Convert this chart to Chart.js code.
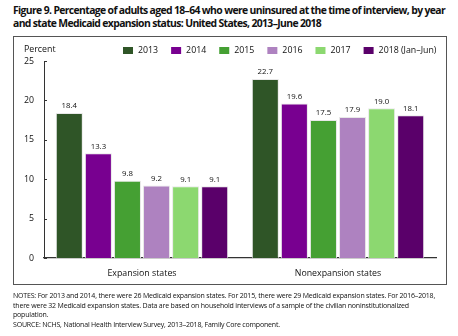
<!DOCTYPE html>
<html>
<head>
<meta charset="utf-8">
<script src="https://cdn.jsdelivr.net/npm/chart.js@4.4.0/dist/chart.umd.min.js"></script>
<style>
  html, body { margin: 0; padding: 0; background: #fff; }
  body { width: 458px; height: 336px; position: relative; overflow: hidden; font-family: "Open Sans", sans-serif; color: #111; }
  #title { position: absolute; left: 13px; top: 4px; font-weight: bold; font-size: 10.4px; line-height: 12.5px; white-space: nowrap; }
  #frame { position: absolute; left: 13px; top: 36px; width: 432px; height: 247px; border: 1.5px solid #555; }
  #wrap { position: absolute; left: 0; top: 0; width: 458px; height: 336px; }
  #notes { position: absolute; left: 13px; top: 291px; font-size: 7px; line-height: 9.6px; white-space: nowrap; }
  .ln { display: block; }
</style>
</head>
<body>
<div id="title"><span class="ln" id="t1">Figure 9. Percentage of adults aged 18–64 who were uninsured at the time of interview, by year</span><span class="ln">and state Medicaid expansion status: United States, 2013–June 2018</span></div>
<div id="frame"></div>
<div id="wrap"><canvas id="chart" width="458" height="336"></canvas></div>
<div id="notes"><span class="ln" id="n1">NOTES: For 2013 and 2014, there were 26 Medicaid expansion states. For 2015, there were 29 Medicaid expansion states. For 2016–2018,</span><span class="ln">there were 32 Medicaid expansion states. Data are based on household interviews of a sample of the civilian noninstitutionalized</span><span class="ln">population.</span><span class="ln">SOURCE: NCHS, National Health Interview Survey, 2013–2018, Family Core component.</span></div>

<script>
const categories = ['Expansion states', 'Nonexpansion states'];
const years = ['2013', '2014', '2015', '2016', '2017', '2018 (Jan–Jun)'];
const colors = ['#2f5527', '#780090', '#45a033', '#ae82c0', '#8cd870', '#5a006a'];

const v2013 = [18.4, 22.7];
const v2014 = [13.3, 19.6];
const v2015 = [9.8, 17.5];
const v2016 = [9.2, 17.9];
const v2017 = [9.1, 19.0];
const v2018 = [9.1, 18.1];
const seriesValues = [v2013, v2014, v2015, v2016, v2017, v2018];

const yTicks = [0, 5, 10, 15, 20, 25];
const FONT = '"Open Sans", sans-serif';

// squeeze a text block so its first line spans the given width
function fitLine(blockId, lineId, target) {
  const block = document.getElementById(blockId);
  const line = document.getElementById(lineId);
  line.style.display = 'inline-block';
  const w = line.getBoundingClientRect().width;
  line.style.display = '';
  const n = line.textContent.length;
  block.style.letterSpacing = ((target - w) / n).toFixed(3) + 'px';
}
fitLine('title', 't1', 432);
fitLine('notes', 'n1', 422);

// legend row drawn by hand so it can sit right of the "Percent" label
const legendRow = {
  id: 'legendRow',
  afterDraw(chart) {
    const ctx = chart.ctx;
    ctx.save();
    ctx.font = '8.8px ' + FONT;
    ctx.textBaseline = 'middle';
    ctx.fillStyle = '#111';
    ctx.textAlign = 'left';
    ctx.fillText('Percent', 24, 49);
    let x = 123;
    chart.data.datasets.forEach(ds => {
      ctx.fillStyle = ds.backgroundColor;
      ctx.fillRect(x, 47, 10, 7);
      ctx.fillStyle = '#111';
      ctx.fillText(ds.label, x + 15, 50.5);
      x += 15 + ctx.measureText(ds.label).width + 13;
    });
    ctx.restore();
  }
};

// value labels over bars, short inward ticks on the y axis
const extras = {
  id: 'extras',
  afterDatasetsDraw(chart) {
    const ctx = chart.ctx;
    ctx.save();
    ctx.font = '7.8px ' + FONT;
    ctx.textAlign = 'center';
    ctx.textBaseline = 'bottom';
    ctx.fillStyle = '#111';
    chart.data.datasets.forEach((ds, i) => {
      chart.getDatasetMeta(i).data.forEach((bar, j) => {
        ctx.fillText(ds.data[j].toFixed(1), bar.x, bar.y - 3);
      });
    });
    const ys = chart.scales.y;
    const x0 = chart.chartArea.left;
    ctx.strokeStyle = '#333';
    ctx.lineWidth = 1;
    yTicks.forEach(t => {
      const y = Math.round(ys.getPixelForValue(t)) + 0.5;
      ctx.beginPath();
      ctx.moveTo(x0, y);
      ctx.lineTo(x0 + 3, y);
      ctx.stroke();
    });
    ctx.restore();
  }
};

new Chart(document.getElementById('chart'), {
  type: 'bar',
  data: {
    labels: categories,
    datasets: years.map((y, i) => ({
      label: y,
      data: seriesValues[i],
      backgroundColor: colors[i],
      borderColor: 'rgba(230,230,230,0.9)',
      borderWidth: 1
    }))
  },
  options: {
    responsive: false,
    animation: false,
    events: [],
    layout: { padding: { left: 0, right: 22, top: 61, bottom: 48 } },
    datasets: { bar: { categoryPercentage: 0.89, barPercentage: 0.93 } },
    plugins: { legend: { display: false }, tooltip: { enabled: false } },
    scales: {
      x: {
        grid: { display: false },
        border: { display: true, color: '#333', width: 1.2 },
        ticks: { color: '#111', font: { family: FONT, size: 8.8 }, padding: 2 },
        afterFit(s) { s.height = 30; }
      },
      y: {
        min: 0, max: 25,
        afterBuildTicks(s) { s.ticks = yTicks.map(v => ({ value: v })); },
        grid: { display: false },
        border: { display: true, color: '#333', width: 1 },
        ticks: { color: '#111', font: { family: FONT, size: 8.8 }, padding: 2 },
        afterFit(s) { s.width = 44; }
      }
    }
  },
  plugins: [legendRow, extras]
});
</script>
</body>
</html>
